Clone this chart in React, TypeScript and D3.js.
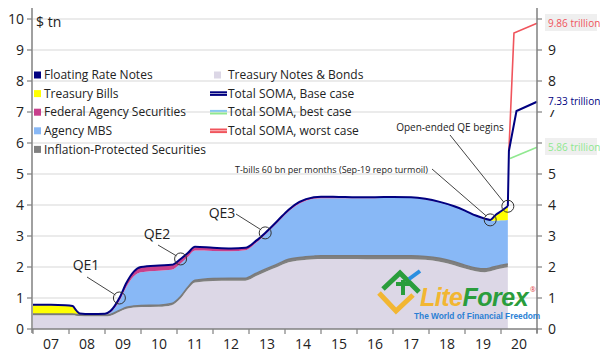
import React from "react";
import * as d3 from "d3";

// SOMA holdings, $ tn
const years = [2007.0, 2007.5, 2007.9, 2008.1, 2008.2, 2008.3, 2008.6, 2009.0, 2009.15, 2009.4, 2009.6, 2009.8, 2010.0, 2010.5, 2010.85, 2011.1, 2011.3, 2011.5, 2012.0, 2012.5, 2012.9, 2013.2, 2013.45, 2013.8, 2014.1, 2014.4, 2014.8, 2015.0, 2015.5, 2016.0, 2016.5, 2017.0, 2017.5, 2017.9, 2018.3, 2018.7, 2019.0, 2019.3, 2019.55, 2019.7, 2019.85, 2020.0, 2020.19];
const notes = [0.44, 0.44, 0.44, 0.44, 0.43, 0.42, 0.41, 0.41, 0.43, 0.56, 0.65, 0.69, 0.71, 0.72, 0.77, 0.99, 1.29, 1.5, 1.55, 1.56, 1.56, 1.71, 1.84, 2.01, 2.15, 2.21, 2.25, 2.26, 2.26, 2.26, 2.25, 2.25, 2.25, 2.23, 2.17, 2.06, 1.95, 1.86, 1.83, 1.86, 1.91, 1.95, 1.99];
const tips = [0.04, 0.04, 0.04, 0.04, 0.04, 0.04, 0.04, 0.04, 0.04, 0.04, 0.05, 0.05, 0.05, 0.05, 0.05, 0.06, 0.06, 0.07, 0.08, 0.08, 0.08, 0.09, 0.09, 0.09, 0.1, 0.1, 0.1, 0.1, 0.1, 0.1, 0.11, 0.11, 0.11, 0.11, 0.11, 0.11, 0.11, 0.11, 0.11, 0.11, 0.11, 0.11, 0.11];
const mbs = [0, 0, 0, 0, 0, 0, 0, 0.01, 0.06, 0.3, 0.67, 0.96, 1.07, 1.11, 1.09, 1.06, 0.97, 0.96, 0.89, 0.87, 0.9, 0.98, 1.11, 1.34, 1.54, 1.73, 1.85, 1.86, 1.86, 1.86, 1.86, 1.88, 1.87, 1.84, 1.8, 1.77, 1.74, 1.67, 1.6, 1.52, 1.48, 1.45, 1.42];
const agency = [0, 0, 0, 0, 0, 0, 0.01, 0.01, 0.03, 0.08, 0.11, 0.13, 0.15, 0.16, 0.15, 0.14, 0.12, 0.11, 0.1, 0.09, 0.08, 0.07, 0.06, 0.06, 0.05, 0.05, 0.04, 0.04, 0.03, 0.02, 0.02, 0.01, 0.01, 0.01, 0.01, 0.01, 0.01, 0.01, 0.01, 0, 0, 0, 0];
const bills = [0.3, 0.3, 0.29, 0.26, 0.13, 0.04, 0.02, 0.02, 0.02, 0.02, 0.02, 0.02, 0.02, 0.01, 0.01, 0.01, 0.01, 0.01, 0, 0, 0, 0, 0, 0, 0, 0, 0, 0, 0, 0, 0, 0, 0, 0, 0, 0, 0, 0, 0, 0.02, 0.17, 0.28, 0.42];
const frn = [0, 0, 0, 0, 0, 0, 0, 0, 0, 0, 0, 0, 0, 0, 0, 0, 0, 0, 0, 0, 0, 0, 0, 0, 0.01, 0.01, 0.01, 0.01, 0.01, 0.01, 0.01, 0.01, 0.01, 0.01, 0.01, 0.01, 0.01, 0.01, 0.01, 0.01, 0.01, 0.01, 0.02];

// projections
const baseT = [2020.19, 2020.22, 2020.43, 2021.0];
const baseV = [3.96, 5.75, 7.03, 7.33];
const worstT = [2020.22, 2020.36, 2021.0];
const worstV = [5.75, 9.55, 9.86];
const bestT = [2020.25, 2021.0];
const bestV = [5.5, 5.86];

const yTicks = [0, 1, 2, 3, 4, 5, 6, 7, 8, 9, 10];
const yearLabels = ["07", "08", "09", "10", "11", "12", "13", "14", "15", "16", "17", "18", "19", "20"];

const legendLeft = ["Floating Rate Notes", "Treasury Bills", "Federal Agency Securities", "Agency MBS", "Inflation-Protected Securities"];
const legendRight = ["Treasury Notes & Bonds", "Total SOMA, Base case", "Total SOMA, best case", "Total SOMA, worst case"];

const qeNotes = [
  { label: "QE1", at: 9 },
  { label: "QE2", at: 15 },
  { label: "QE3", at: 22 },
];

const keys = ["notes", "tips", "mbs", "agency", "bills", "frn"];
const fills: Record<string, string> = {
  notes: "#dcd7e6",
  tips: "#808080",
  mbs: "#88b8f6",
  agency: "#c8408c",
  bills: "#ffff00",
  frn: "#000080",
};
const leftColors = ["#000080", "#ffff00", "#c8408c", "#88b8f6", "#808080"];
const navy = "#000080";
const red = "#f0545c";
const green = "#90e890";
const font = "'Open Sans', sans-serif";

function App() {
  const x = d3.scaleLinear().domain([2007, 2021]).range([33, 537]);
  const y = d3.scaleLinear().domain([0, 10]).range([329, 19]);

  const rows = years.map((t, i) => ({
    t,
    notes: notes[i],
    tips: tips[i],
    mbs: mbs[i],
    agency: agency[i],
    bills: bills[i],
    frn: frn[i],
  }));
  const series = d3.stack<any>().keys(keys)(rows);
  const area = d3
    .area<any>()
    .x((d) => x(d.data.t))
    .y0((d) => y(d[0]))
    .y1((d) => y(d[1]))
    .curve(d3.curveMonotoneX);
  const top = series[series.length - 1];
  const topLine = d3
    .line<any>()
    .x((d) => x(d.data.t))
    .y((d) => y(d[1]))
    .curve(d3.curveMonotoneX);
  const proj = d3
    .line<number>()
    .x((d) => x(d[0]))
    .y((d) => y(d[1]));

  const tot = (i: number) => top[i][1];

  const tbillPt = [x(years[39]), y(tot(39))];
  const qePt = [x(years[42]), y(tot(42))];

  return (
    <svg width={600} height={354} style={{ position: "absolute", left: 0, top: 0, background: "#fff" }} fontFamily={font}>
      {/* grid */}
      {yTicks.slice(1).map((v) => (
        <line key={v} x1={x(2007)} x2={x(2021)} y1={y(v)} y2={y(v)} stroke="#e4e4e4" strokeWidth={1.5} />
      ))}

      {/* stacked areas */}
      {series.map((s) => (
        <path key={s.key} d={area(s) || ""} fill={fills[s.key]} />
      ))}
      <path d={topLine(series[1]) || ""} fill="none" stroke="#7a7a7a" strokeWidth={1.5} />
      <path d={topLine(top) || ""} fill="none" stroke={navy} strokeWidth={2} />

      {/* projections */}
      <path d={proj(worstT.map((t, i) => [t, worstV[i]]) as any) || ""} fill="none" stroke={red} strokeWidth={1.6} />
      <path d={proj(bestT.map((t, i) => [t, bestV[i]]) as any) || ""} fill="none" stroke={green} strokeWidth={1.6} />
      <path d={proj(baseT.map((t, i) => [t, baseV[i]]) as any) || ""} fill="none" stroke={navy} strokeWidth={2} />

      {/* axes */}
      <line x1={32} x2={32} y1={8} y2={333} stroke="#808080" strokeWidth={1.5} />
      <line x1={537} x2={537} y1={8} y2={333} stroke="#808080" strokeWidth={1.5} />
      <line x1={32} x2={538} y1={329} y2={329} stroke="#808080" strokeWidth={1.5} />
      {yTicks.map((v) => (
        <g key={v}>
          <line x1={27} x2={32} y1={y(v)} y2={y(v)} stroke="#808080" strokeWidth={1.2} />
          <text x={24} y={y(v)} dy="0.35em" textAnchor="end" fontSize={14} fill="#222">
            {v}
          </text>
          <line x1={537} x2={542} y1={y(v)} y2={y(v)} stroke="#808080" strokeWidth={1.2} />
          <text x={548} y={y(v)} dy="0.35em" fontSize={14} fill="#222">
            {v}
          </text>
        </g>
      ))}
      {d3.range(2007, 2022).map((t) => (
        <line key={t} x1={x(t)} x2={x(t)} y1={329} y2={334} stroke="#808080" strokeWidth={1.2} />
      ))}
      {yearLabels.map((l, i) => (
        <text key={l} x={x(2007.5 + i)} y={344} dy="0.35em" textAnchor="middle" fontSize={14} fill="#222">
          {l}
        </text>
      ))}
      <text x={36} y={22} dy="0.35em" fontSize={14} fill="#222">
        $ tn
      </text>

      {/* end labels (they sit over parts of the right axis numbers, as in the original) */}
      <rect x={545} y={14} width={52} height={17} fill="#efefef" />
      <text x={548} y={y(9.86)} dy="0.35em" fontSize={10} fill={red}>
        9.86 trillion
      </text>
      <rect x={545} y={93} width={52} height={17} fill="#fff" />
      <text x={548} y={y(7.33)} dy="0.35em" fontSize={10} fill={navy}>
        7.33 trillion
      </text>
      <rect x={545} y={138} width={52} height={17} fill="#efefef" />
      <text x={548} y={y(5.86)} dy="0.35em" fontSize={10} fill={green}>
        5.86 trillion
      </text>

      {/* legend */}
      {legendLeft.map((l, i) => (
        <g key={l} transform={`translate(34,${75 + i * 18.6})`}>
          <rect x={0} y={-3.5} width={7} height={7} fill={leftColors[i]} />
          <text x={10} y={0} dy="0.35em" fontSize={12} fill="#222">
            {l}
          </text>
        </g>
      ))}
      {legendRight.map((l, i) => (
        <g key={l} transform={`translate(210,${75 + i * 18.6})`}>
          {i === 0 ? (
            <rect x={4} y={-3.5} width={7} height={7} fill="#dcd7e6" />
          ) : (
            <>
              <line x1={0} x2={17} y1={-1.3} y2={-1.3} stroke={i === 1 ? navy : i === 2 ? "#88c8f0" : red} strokeWidth={2} />
              <line x1={0} x2={17} y1={1.3} y2={1.3} stroke={i === 1 ? navy : i === 2 ? green : red} strokeWidth={2} />
            </>
          )}
          <text x={18} y={0} dy="0.35em" fontSize={12} fill="#222">
            {l}
          </text>
        </g>
      ))}

      {/* QE annotations */}
      {qeNotes.map((q, k) => {
        const cx = x(years[q.at]);
        const cy = y(tot(q.at));
        const tx = [86, 157, 222][k];
        const ty = [265, 234, 213][k];
        const lx = [87, 158, 236][k];
        const ly = [277, 245, 214][k];
        return (
          <g key={q.label}>
            <text x={tx} y={ty} dy="0.35em" textAnchor="middle" fontSize={14} fill="#222">
              {q.label}
            </text>
            <line x1={lx} y1={ly} x2={cx - 4} y2={cy - 3} stroke="#444" strokeWidth={1} />
            <circle cx={cx} cy={cy} r={6} fill="none" stroke="#333" strokeWidth={1} />
          </g>
        );
      })}
      <text x={428} y={170} dy="0.35em" textAnchor="end" fontSize={9} fill="#222">
        T-bills 60 bn per months (Sep-19 repo turmoil)
      </text>
      <line x1={432} y1={169} x2={tbillPt[0] - 4} y2={tbillPt[1] - 4} stroke="#444" strokeWidth={1} />
      <circle cx={tbillPt[0]} cy={tbillPt[1]} r={6} fill="none" stroke="#333" strokeWidth={1} />
      <text x={450} y={127} dy="0.35em" textAnchor="middle" fontSize={10} fill="#222">
        Open-ended QE begins
      </text>
      <line x1={450} y1={135} x2={qePt[0] - 4} y2={qePt[1] - 4} stroke="#444" strokeWidth={1} />
      <circle cx={qePt[0]} cy={qePt[1]} r={6} fill="none" stroke="#333" strokeWidth={1} />

      {/* watermark */}
      <g>
        <path d="M379,293 L396,311 L413,295" fill="none" stroke="#f2b632" strokeWidth={5} />
        <path d="M383,289 L400,273 L419,292" fill="none" stroke="#2a9d3c" strokeWidth={5} />
        <path d="M396,284 L412,284 M403,280 L403,295" fill="none" stroke="#2a9d3c" strokeWidth={4} />
        <path d="M409,279 L420,271" fill="none" stroke="#2a8ee0" strokeWidth={4} />
        <text x={420} y={306} fontSize={25} fontWeight="bold" fontStyle="italic" fontFamily="'Liberation Sans', Arial, sans-serif" letterSpacing={-0.5}>
          <tspan fill="#f2b632">Lite</tspan>
          <tspan fill="#2a9d3c">Forex</tspan>
        </text>
        <text x={530} y={292} fontSize={7} fill="#e04040">
          ®
        </text>
        <text x={414} y={319} fontSize={8.3} fontWeight="bold" fill="#2a7fd4" fontFamily="'Liberation Sans', Arial, sans-serif">
          The World of Financial Freedom
        </text>
      </g>
    </svg>
  );
}

export default App;
